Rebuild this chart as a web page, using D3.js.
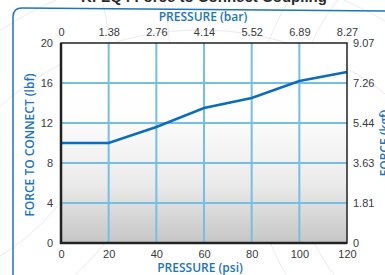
<!DOCTYPE html>
<html>
<head>
<meta charset="utf-8">
<script src="https://cdn.jsdelivr.net/npm/d3@7"></script>
<style>
  body { margin: 0; background: #fff; }
  svg { display: block; }
  .tick text { font-family: "Liberation Sans", Arial, sans-serif; font-size: 11px; fill: #3a3a3a; }
  .atitle { font-family: "Open Sans", sans-serif; font-weight: 600; font-size: 12px; fill: #1b75bc; }
</style>
</head>
<body>
<div id="chart"></div>
<script>
// data
const psi = [0, 20, 40, 60, 80, 100, 120];
const forceLbf = [10, 10, 11.6, 13.5, 14.5, 16.2, 17.1];

// tick labels
const psiTicks = [0, 20, 40, 60, 80, 100, 120];
const barLabels = ['0', '1.38', '2.76', '4.14', '5.52', '6.89', '8.27'];
const lbfTicks = [0, 4, 8, 12, 16, 20];
const kgfLabels = ['0', '1.81', '3.63', '5.44', '7.26', '9.07'];

const width = 385;
const height = 275;
const plotL = 61, plotR = 347, plotT = 43, plotB = 243;

const svg = d3.select('#chart')
              .append('svg')
              .attr('width', width)
              .attr('height', height);

// faint background arcs
const bg = svg.append('g').attr('fill', 'none').attr('stroke', '#e4e4e4').attr('stroke-width', 0.8);
[[200, 330, 300], [200, 330, 360], [-120, 60, 230], [-120, 60, 290], [520, 140, 230], [520, 140, 270]].forEach(c => {
    bg.append('circle').attr('cx', c[0]).attr('cy', c[1]).attr('r', c[2]);
});

// title (cut at the top)
svg.append('text')
   .attr('x', 204)
   .attr('y', 2)
   .attr('text-anchor', 'middle')
   .style('font-family', '"Liberation Sans", Arial, sans-serif')
   .style('font-weight', 'bold')
   .style('font-size', '15px')
   .style('fill', '#2b2b2b')
   .text('KFLQ4 Force to Connect Coupling');

// blue frame
svg.append('path')
   .attr('d', 'M13,275 V17 Q13,8 22,8 L385,11')
   .attr('fill', 'none')
   .attr('stroke', '#1b75bc')
   .attr('stroke-width', 1.5);

// scales
const xScale = d3.scaleLinear().domain([0, 120]).range([plotL, plotR]);
const yScale = d3.scaleLinear().domain([0, 20]).range([plotB, plotT]);

// gradient plot background
const grad = svg.append('defs').append('linearGradient')
                .attr('id', 'bggrad')
                .attr('x1', 0).attr('y1', 0).attr('x2', 0).attr('y2', 1);
grad.append('stop').attr('offset', '0%').attr('stop-color', '#ffffff');
grad.append('stop').attr('offset', '35%').attr('stop-color', '#fefefe');
grad.append('stop').attr('offset', '70%').attr('stop-color', '#ebebeb');
grad.append('stop').attr('offset', '100%').attr('stop-color', '#c6c6c6');

svg.append('rect')
   .attr('x', plotL).attr('y', plotT)
   .attr('width', plotR - plotL).attr('height', plotB - plotT)
   .attr('fill', 'url(#bggrad)');

// grid
const grid = svg.append('g').attr('stroke', '#74bfe6').attr('stroke-width', 2);
grid.selectAll('.vx')
    .data(psiTicks.slice(1, -1))
    .enter()
    .append('line')
    .attr('x1', d => xScale(d)).attr('x2', d => xScale(d))
    .attr('y1', plotT).attr('y2', plotB);
grid.selectAll('.hy')
    .data(lbfTicks.slice(1, -1))
    .enter()
    .append('line')
    .attr('x1', plotL).attr('x2', plotR)
    .attr('y1', d => yScale(d)).attr('y2', d => yScale(d));

// data line
const line = d3.line().x((d, i) => xScale(psi[i])).y(d => yScale(d));
svg.append('path')
   .datum(forceLbf)
   .attr('d', line)
   .attr('fill', 'none')
   .attr('stroke', '#0b6dbb')
   .attr('stroke-width', 2.5);

// plot border
svg.append('rect')
   .attr('x', plotL).attr('y', plotT)
   .attr('width', plotR - plotL).attr('height', plotB - plotT)
   .attr('fill', 'none')
   .attr('stroke', '#222')
   .attr('stroke-width', 1.5);
svg.append('path')
   .attr('d', `M${plotL},${plotT} V${plotB} H${plotR}`)
   .attr('fill', 'none')
   .attr('stroke', '#222')
   .attr('stroke-width', 2.5);

// axes
const xAxis = d3.axisBottom(xScale).tickValues(psiTicks).tickSize(0).tickPadding(7);
const xTop = d3.axisTop(xScale).tickValues(psiTicks).tickSize(0).tickPadding(7)
               .tickFormat((d, i) => barLabels[i]);
const yAxis = d3.axisLeft(yScale).tickValues(lbfTicks).tickSize(0).tickPadding(8);
const yRight = d3.axisRight(yScale).tickValues(lbfTicks).tickSize(0).tickPadding(6)
                 .tickFormat((d, i) => kgfLabels[i]);

svg.append('g').attr('transform', `translate(0,${plotB})`).call(xAxis);
svg.append('g').attr('transform', `translate(0,${plotT})`).call(xTop);
svg.append('g').attr('transform', `translate(${plotL},0)`).call(yAxis);
svg.append('g').attr('transform', `translate(${plotR},0)`).call(yRight);
svg.selectAll('.domain').remove();

// axis titles
svg.append('text').attr('class', 'atitle')
   .attr('x', 203).attr('y', 21).attr('text-anchor', 'middle')
   .text('PRESSURE (bar)');
svg.append('text').attr('class', 'atitle')
   .attr('x', 200).attr('y', 272).attr('text-anchor', 'middle')
   .text('PRESSURE (psi)');
svg.append('text').attr('class', 'atitle')
   .attr('transform', 'translate(34,145) rotate(-90)')
   .attr('text-anchor', 'middle')
   .text('FORCE TO CONNECT (lbf)');
svg.append('text').attr('class', 'atitle')
   .attr('transform', 'translate(389,143) rotate(-90)')
   .attr('text-anchor', 'middle')
   .text('FORCE (kgf)');
</script>
</body>
</html>
